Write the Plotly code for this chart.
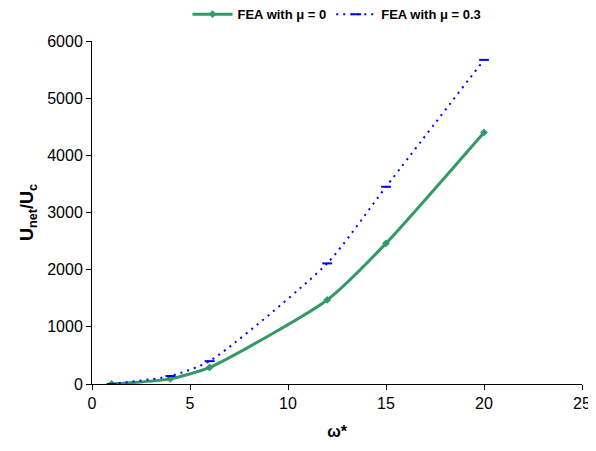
import plotly.graph_objects as go

omega = [1, 4, 6, 12, 15, 20]
fea_mu0 = [0, 90, 290, 1470, 2460, 4400]
fea_mu03 = [0, 140, 400, 2110, 3450, 5670]

fig = go.Figure()
fig.add_trace(go.Scatter(
    x=omega, y=fea_mu0, mode="lines+markers", name="<b>FEA with μ = 0</b>",
    line=dict(color="#339966", width=3, shape="spline", smoothing=0.6),
    marker=dict(symbol="diamond", size=6, color="#339966"),
))
fig.add_trace(go.Scatter(
    x=omega, y=fea_mu03, mode="lines+markers", name="<b>FEA with μ = 0.3</b>",
    line=dict(color="#0000FF", width=2, dash="2px,5px", shape="spline", smoothing=0.6),
    marker=dict(symbol="line-ew", size=7, color="#0000FF", line=dict(color="#0000FF", width=2)),
))

fig.update_layout(
    width=588, height=443,
    margin=dict(l=84, r=14, t=33, b=67, autoexpand=False),
    paper_bgcolor="white", plot_bgcolor="white",
    font=dict(family="Liberation Sans, Arial, sans-serif", color="black", size=16),
    legend=dict(orientation="h", x=0.5, xanchor="center", y=1.078, yanchor="middle",
                yref="paper", font=dict(size=13, family="Liberation Sans, Arial, sans-serif"),
                itemwidth=40),
    showlegend=True,
)
fig.update_xaxes(range=[0, 25], tickvals=[0, 5, 10, 15, 20, 25], showgrid=False, zeroline=False,
                 showline=True, linecolor="black", linewidth=1, ticks="outside", ticklen=5,
                 tickcolor="black",
                 title=dict(text="<b>ω*</b>", font=dict(size=16), standoff=14))
fig.update_yaxes(range=[0, 6000], tickvals=[0, 1000, 2000, 3000, 4000, 5000, 6000], showgrid=False,
                 zeroline=False, showline=True, linecolor="black", linewidth=1, ticks="outside",
                 ticklen=5, tickcolor="black",
                 title=dict(text="<b>U<sub>net</sub>/U<sub>c</sub></b>", font=dict(size=18), standoff=8))

fig.write_html("out.html")
